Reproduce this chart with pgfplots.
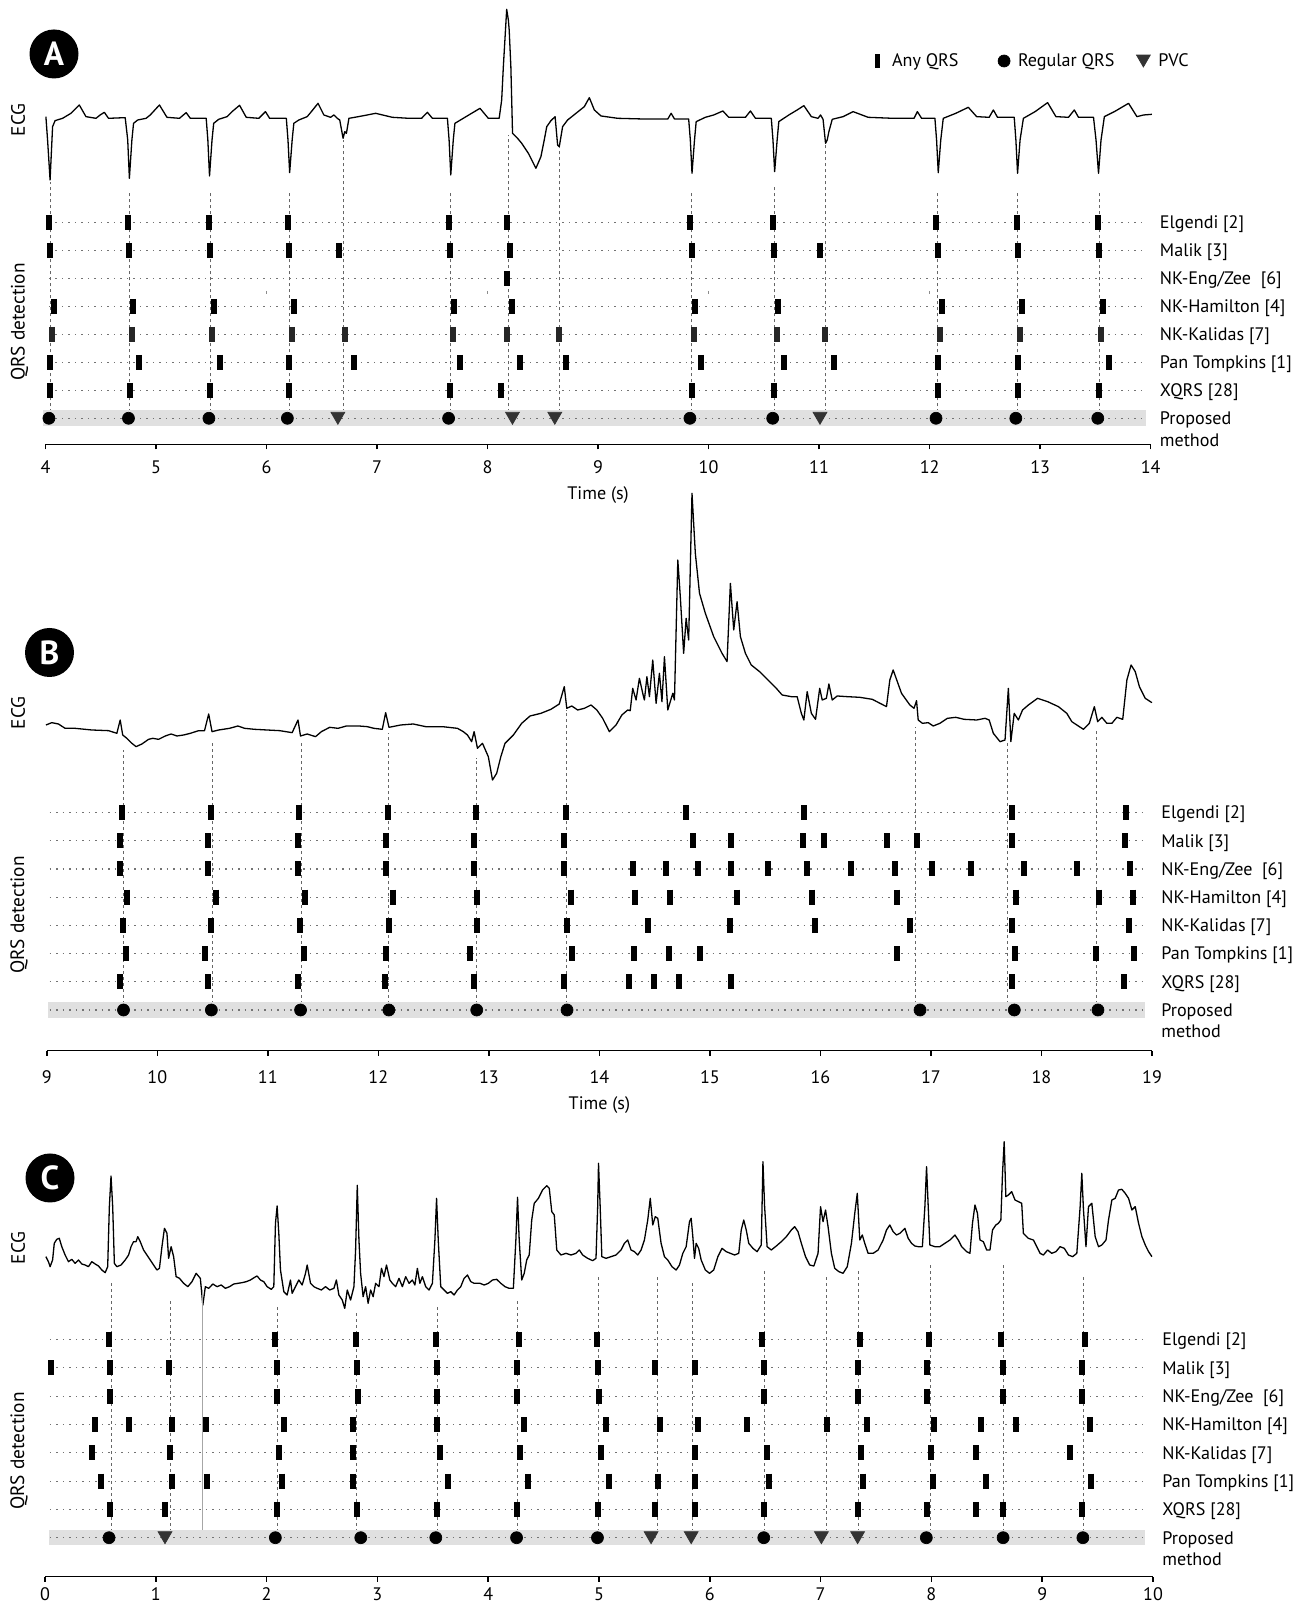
\documentclass[border=0pt]{standalone}
\usepackage{fontspec}
\setmainfont{PT Sans}
\usepackage{pgfplots}
\pgfplotsset{compat=1.18}
\newcommand\lab{\fontsize{10.3pt}{12.3pt}\selectfont}
\newcommand\rlab{\fontsize{11pt}{13pt}\selectfont}
\newcommand\tck{\fontsize{10.3pt}{12pt}\selectfont}
\pgfplotsset{
  det/.style={scale only axis, clip=false,
    axis x line*=bottom, axis y line*=right,
    y axis line style={draw=none}, ytick style={draw=none},
    x axis line style={line width=0.03cm, black},
    xtick style={line width=0.03cm, black},
    tick align=outside, major tick length=0.1cm,
    /pgf/number format/assume math mode=true,
    xticklabel style={font=\tck, inner sep=0pt, anchor=center},
    ytick={1,...,8},
    yticklabels={{\begin{tabular}[t]{@{}l@{}}Proposed\\method\end{tabular}}, XQRS [28], Pan Tompkins [1], NK-Kalidas [7], NK-Hamilton [4], NK-Eng/Zee\ \ [6], Malik [3], Elgendi [2]},
    yticklabel style={font=\lab, anchor=base west, inner sep=0pt, xshift=0.08cm, yshift=-0.127cm},
    xlabel style={font=\lab, at={(axis description cs:0.5,0)}, anchor=center, inner sep=0pt},
  },
  ecg/.style={scale only axis, hide axis, y dir=reverse, clip=false},
  trace/.style={black, line width=0.026cm, line join=round},
  anyqrs/.style={only marks, mark=|, mark size=0.15cm, black, mark options={line width=0.12cm},
    legend image code/.code={\draw[##1] plot coordinates {(0cm,0cm)};}},
  regqrs/.style={only marks, mark=*, mark size=0.12cm, black,
    legend image code/.code={\draw[##1] plot coordinates {(0cm,0cm)};}},
  pvc/.style={only marks, mark=triangle*, mark size=0.16cm, black!80, mark options={yshift=0.04cm, rotate=180},
    legend image code/.code={\draw[##1] plot coordinates {(0cm,0cm)};}},
  rowline/.style={black!55, dash pattern=on 0.03cm off 0.1cm, line width=0.022cm, forget plot},
  vline/.style={black!60, dash pattern=on 0.06cm off 0.06cm, line width=0.02cm, forget plot, unbounded coords=jump},
  band/.style={fill=black!12, draw=none, forget plot},
}
\begin{document}
\begin{tikzpicture}
\useasboundingbox (0,0) rectangle (26.18,32.08);

% ================= PANEL A =================
\begin{axis}[ecg, at={(0.912cm,28.08cm)}, anchor=south west, width=22.1cm, height=4cm,
  xmin=54.63, xmax=1378.4, ymin=0, ymax=600]
\addplot[trace] coordinates {(55,350) (57,420) (60,540) (63,380) (66,362) (75,355) (85,340) (95,315) (103,350) (115,355) (120,345) (125,337) (130,355) (150,353) (153,420) (155,535) (158,420) (160,370) (165,360) (175,355) (180,345) (191,315) (200,352) (215,355) (223,338) (228,355) (247,355) (249,420) (251,528) (254,420) (256,370) (262,358) (272,350) (278,335) (287,316) (295,352) (310,355) (318,335) (323,355) (343,355) (345,420) (347,518) (350,420) (352,370) (358,360) (368,350) (373,335) (381,310) (388,345) (396,352) (400,345) (404,355) (407,360) (411,415) (413,395) (415,400) (418,355) (425,352) (440,345) (450,340) (460,346) (470,352) (490,355) (505,355) (512,337) (518,355) (536,355) (538,420) (540,525) (543,420) (545,370) (555,355) (565,340) (575,325) (580,340) (585,355) (598,355) (601,300) (603,200) (607,28) (609,60) (610,90) (612,200) (614,400) (620,415) (625,430) (633,460) (642,505) (648,470) (652,420) (655,380) (660,362) (665,350) (668,435) (670,440) (674,380) (680,360) (690,340) (700,320) (706,293) (712,330) (720,348) (740,355) (770,357) (800,357) (804,340) (808,357) (825,357) (827,420) (829,520) (832,420) (834,365) (845,352) (855,345) (866,333) (873,352) (893,352) (899,333) (905,355) (924,355) (926,420) (928,515) (931,420) (933,365) (945,345) (955,330) (963,317) (972,350) (980,355) (983,345) (986,358) (989,430) (991,420) (993,395) (997,358) (1010,350) (1022,335) (1040,352) (1070,355) (1095,355) (1099,335) (1104,355) (1120,355) (1122,420) (1124,518) (1127,420) (1130,355) (1145,340) (1160,322) (1170,350) (1185,352) (1190,330) (1195,352) (1215,352) (1217,420) (1219,520) (1222,420) (1226,355) (1240,335) (1255,308) (1265,350) (1280,352) (1287,330) (1292,352) (1310,352) (1313,420) (1316,520) (1319,420) (1323,350) (1335,335) (1352,310) (1362,350) (1370,345) (1380,343)};
\end{axis}

\begin{axis}[det, at={(0.912cm,23.194cm)}, anchor=south west, width=22.1cm, height=4.72cm,
  xmin=4, xmax=14, ymin=0.0714, ymax=8.5, xtick={4,...,14}, xlabel={Time (s)},
  xticklabel style={yshift=-0.364cm},
  xlabel style={yshift=-1.014cm},
  legend style={at={(axis cs:11.529,13.76)}, anchor=west, draw=none, fill=none, font=\lab,
    inner sep=0pt, outer sep=0pt, legend columns=3, legend cell align=left,
    nodes={inner sep=0pt},
    /tikz/column 1/.style={column sep=0.29cm}, /tikz/column 2/.style={column sep=0.79cm},
    /tikz/column 3/.style={column sep=0.16cm}, /tikz/column 4/.style={column sep=0.44cm},
    /tikz/column 5/.style={column sep=0.16cm}}]
\addplot[vline] coordinates {(4.045,1) (4.045,9.45) (nan,nan) (4.762,1) (4.762,9.08) (nan,nan) (5.49,1) (5.49,9.08) (nan,nan) (6.206,1) (6.206,9.08) (nan,nan) (6.70,1) (6.70,10.94) (nan,nan) (7.662,1) (7.662,9.08) (nan,nan) (8.188,1) (8.188,11.12) (nan,nan) (8.653,1) (8.653,10.69) (nan,nan) (9.846,1) (9.846,9.08) (nan,nan) (10.599,1) (10.599,9.26) (nan,nan) (11.055,1) (11.055,10.83) (nan,nan) (12.074,1) (12.074,9.08) (nan,nan) (12.796,1) (12.796,9.08) (nan,nan) (13.533,1) (13.533,9.08)};
\addplot[band] coordinates {(3.98,0.736) (13.955,0.736) (13.955,1.30) (3.98,1.30)} -- cycle;
\pgfplotsinvokeforeach{1,...,8}{\addplot[rowline] coordinates {(4.03,#1) (13.93,#1)};}
\addplot[black!45, only marks, mark=|, mark size=0.03cm, forget plot] coordinates {(6,5.5) (8,5.5) (10,5.5) (12,5.5)};
\addplot[anyqrs, forget plot] coordinates {(4.03,8) (4.75,8) (5.475,8) (6.195,8) (7.651,8) (8.18,8) (9.835,8) (10.584,8) (12.062,8) (12.788,8) (13.522,8)};
\addplot[anyqrs, forget plot] coordinates {(4.038,7) (4.758,7) (5.486,7) (6.206,7) (6.657,7) (7.659,7) (8.203,7) (9.846,7) (10.595,7) (11.008,7) (12.074,7) (12.796,7) (13.533,7)};
\addplot[anyqrs, forget plot] coordinates {(8.173,6)};
\addplot[anyqrs, forget plot] coordinates {(4.075,5) (4.795,5) (5.523,5) (6.244,5) (7.70,5) (8.225,5) (9.881,5) (10.63,5) (12.113,5) (12.835,5) (13.572,5)};
\addplot[anyqrs, black!85, forget plot] coordinates {(4.06,4) (4.78,4) (5.508,4) (6.229,4) (6.709,4) (7.685,4) (8.18,4) (8.645,4) (9.869,4) (10.618,4) (11.05,4) (12.097,4) (12.819,4) (13.549,4)};
\addplot[anyqrs, forget plot] coordinates {(4.038,3) (4.848,3) (5.576,3) (6.206,3) (6.788,3) (7.749,3) (8.293,3) (8.713,3) (9.935,3) (10.684,3) (11.136,3) (12.074,3) (12.8,3) (13.626,3)};
\addplot[anyqrs, forget plot] coordinates {(4.038,2) (4.762,2) (5.486,2) (6.206,2) (7.659,2) (8.12,2) (9.846,2) (10.595,2) (12.074,2) (12.8,2) (13.533,2)};
\addplot[regqrs, forget plot] coordinates {(4.03,1) (4.75,1) (5.478,1) (6.188,1) (7.647,1) (9.831,1) (10.58,1) (12.058,1) (12.78,1) (13.522,1)};
\addplot[pvc, forget plot] coordinates {(6.645,1) (8.225,1) (8.608,1) (11.008,1)};
\addlegendimage{anyqrs, mark size=0.14cm, mark options={line width=0.1cm}}
\addlegendentry{Any QRS}
\addlegendimage{regqrs}
\addlegendentry{Regular QRS}
\addlegendimage{pvc}
\addlegendentry{PVC}
\end{axis}

% ================= PANEL B =================
\begin{axis}[ecg, at={(0.936cm,16.08cm)}, anchor=south west, width=22.104cm, height=6.4cm,
  xmin=56.07, xmax=1380.1, ymin=0, ymax=960]
\addplot[trace] coordinates {(55,735) (62,728) (70,732) (78,745) (90,745) (110,750) (130,752) (140,760) (144,720) (147,765) (152,775) (158,790) (163,800) (170,792) (178,778) (183,775) (190,778) (198,768) (205,762) (212,768) (220,765) (228,760) (238,752) (245,752) (250,702) (254,755) (262,750) (275,745) (285,738) (293,745) (305,748) (320,750) (335,752) (350,758) (357,720) (360,768) (368,762) (378,770) (385,755) (395,742) (405,745) (415,738) (430,738) (440,740) (448,745) (458,748) (462,698) (466,742) (480,735) (495,732) (510,740) (530,740) (548,745) (555,755) (560,765) (565,785) (568,755) (572,805) (578,790) (585,830) (590,900) (595,880) (600,830) (605,790) (615,765) (625,730) (635,708) (648,700) (660,688) (670,672) (676,620) (679,685) (685,678) (692,690) (700,685) (708,675) (715,690) (722,715) (730,755) (738,735) (745,705) (752,690) (755,692) (758,625) (762,660) (766,595) (770,640) (772,660) (775,590) (778,650) (782,540) (786,670) (790,580) (793,665) (796,530) (800,690) (806,640) (808,660) (812,240) (815,350) (819,520) (822,415) (825,480) (829,40) (833,220) (838,340) (845,400) (855,470) (865,520) (871,545) (875,310) (879,450) (883,365) (887,470) (893,520) (900,555) (910,575) (920,600) (930,625) (937,645) (948,650) (955,650) (960,700) (963,720) (967,635) (972,700) (977,718) (982,625) (985,660) (990,655) (993,612) (997,660) (1003,648) (1015,650) (1030,652) (1045,658) (1062,680) (1066,600) (1070,570) (1075,605) (1080,640) (1090,675) (1095,685) (1098,662) (1100,720) (1105,730) (1112,728) (1118,738) (1126,730) (1135,715) (1145,712) (1155,718) (1170,720) (1180,715) (1185,720) (1190,760) (1198,785) (1204,780) (1208,625) (1211,785) (1215,700) (1220,720) (1225,690) (1232,675) (1243,655) (1255,665) (1268,680) (1278,700) (1284,725) (1290,735) (1298,748) (1305,730) (1311,680) (1315,725) (1320,712) (1326,730) (1332,730) (1338,712) (1345,718) (1350,600) (1355,555) (1360,575) (1365,620) (1372,655) (1380,668)};
\end{axis}

\begin{axis}[det, at={(0.936cm,11.066cm)}, anchor=south west, width=22.104cm, height=5.044cm,
  xmin=9, xmax=19, ymin=-0.443, ymax=8.5, xtick={9,...,19}, xlabel={Time (s)},
  xticklabel style={yshift=-0.42cm},
  xlabel style={yshift=-1.086cm}]
\addplot[vline] coordinates {(9.694,1) (9.694,10.22) (nan,nan) (10.495,1) (10.495,10.57) (nan,nan) (11.303,1) (11.303,10.47) (nan,nan) (12.089,1) (12.089,10.82) (nan,nan) (12.89,1) (12.89,9.94) (nan,nan) (13.706,1) (13.706,11.64) (nan,nan) (16.856,1) (16.856,11.04) (nan,nan) (17.694,1) (17.694,10.47) (nan,nan) (18.502,1) (18.502,10.93)};
\addplot[band] coordinates {(9.015,0.706) (18.94,0.706) (18.94,1.273) (9.015,1.273)} -- cycle;
\pgfplotsinvokeforeach{1,...,8}{\addplot[rowline] coordinates {(9.026,#1) (18.924,#1)};}
\addplot[anyqrs, forget plot] coordinates {(9.683,8) (10.482,8) (11.284,8) (12.087,8) (12.886,8) (13.70,8) (14.785,8) (15.855,8) (17.735,8) (18.762,8)};
\addplot[anyqrs, forget plot] coordinates {(9.664,7) (10.463,7) (11.269,7) (12.072,7) (12.867,7) (13.677,7) (14.843,7) (15.187,7) (15.839,7) (16.036,7) (16.604,7) (16.878,7) (17.735,7) (18.754,7)};
\addplot[anyqrs, forget plot] coordinates {(9.664,6) (10.463,6) (11.269,6) (12.072,6) (12.867,6) (13.677,6) (14.307,6) (14.60,6) (14.893,6) (15.187,6) (15.526,6) (15.874,6) (16.275,6) (16.677,6) (17.013,6) (17.36,6) (17.839,6) (18.322,6) (18.8,6)};
\addplot[anyqrs, forget plot] coordinates {(9.728,5) (10.527,5) (11.333,5) (12.128,5) (12.893,5) (13.744,5) (14.326,5) (14.638,5) (15.248,5) (15.92,5) (16.689,5) (17.766,5) (18.522,5) (18.831,5)};
\addplot[anyqrs, forget plot] coordinates {(9.69,4) (10.489,4) (11.292,4) (12.095,4) (12.89,4) (13.704,4) (14.437,4) (15.179,4) (15.955,4) (16.808,4) (17.735,4) (18.796,4)};
\addplot[anyqrs, forget plot] coordinates {(9.72,3) (10.429,3) (11.329,3) (12.072,3) (12.833,3) (13.748,3) (14.315,3) (14.63,3) (14.909,3) (16.696,3) (17.762,3) (18.492,3) (18.839,3)};
\addplot[anyqrs, forget plot] coordinates {(9.664,2) (10.463,2) (11.269,2) (12.064,2) (12.863,2) (13.677,2) (14.27,2) (14.492,2) (14.723,2) (15.187,2) (17.735,2) (18.746,2)};
\addplot[regqrs, forget plot] coordinates {(9.694,1) (10.489,1) (11.296,1) (12.095,1) (12.89,1) (13.707,1) (16.901,1) (17.754,1) (18.511,1)};
\end{axis}

% ================= PANEL C =================
\begin{axis}[ecg, at={(0.9cm,5.68cm)}, anchor=south west, width=22.16cm, height=3.6cm,
  xmin=53.9, xmax=1381.3, ymin=0, ymax=540]
\addplot[trace] coordinates {(55,350) (58,365) (60,380) (63,360) (65,310) (68,298) (71,295) (74,320) (78,345) (82,365) (86,358) (90,370) (94,360) (98,372) (102,375) (106,380) (110,365) (114,372) (118,378) (122,390) (126,398) (129,380) (131,200) (133,108) (135,200) (137,370) (140,380) (145,375) (150,360) (154,345) (157,320) (160,305) (163,305) (165,290) (168,305) (172,330) (176,345) (180,360) (184,375) (188,390) (191,385) (194,320) (197,265) (200,280) (202,355) (205,320) (208,350) (211,410) (215,415) (220,430) (225,440) (230,425) (235,400) (240,415) (243,495) (246,440) (250,445) (255,432) (260,440) (265,435) (270,445) (275,440) (280,432) (285,430) (290,428) (295,425) (300,420) (305,412) (308,408) (312,420) (316,425) (320,440) (325,448) (328,440) (330,250) (332,198) (334,280) (336,390) (340,455) (344,465) (348,420) (350,460) (354,440) (358,420) (362,435) (366,400) (368,375) (372,430) (376,440) (380,445) (385,450) (390,440) (395,450) (400,445) (403,420) (406,465) (410,480) (413,505) (416,450) (420,480) (424,440) (426,330) (428,136) (430,300) (432,400) (435,470) (438,440) (441,490) (444,450) (447,470) (450,430) (454,440) (457,385) (460,410) (463,375) (467,420) (470,430) (474,440) (478,415) (482,440) (486,410) (490,430) (494,420) (497,435) (500,385) (503,430) (506,410) (510,440) (514,450) (518,430) (521,300) (523,175) (525,300) (528,440) (532,450) (536,460) (540,455) (544,465) (548,450) (552,440) (556,415) (560,405) (564,425) (568,430) (575,430) (580,435) (585,430) (590,420) (595,418) (600,430) (605,440) (610,445) (615,445) (618,300) (620,172) (622,300) (625,420) (628,400) (631,360) (634,345) (637,240) (640,190) (645,175) (650,150) (655,137) (658,145) (661,215) (664,225) (667,330) (672,345) (678,340) (684,345) (690,340) (694,330) (698,345) (704,355) (710,362) (714,355) (716,200) (717,70) (719,200) (721,350) (726,355) (732,350) (738,345) (744,330) (748,310) (752,300) (756,330) (760,335) (764,345) (768,330) (772,300) (776,240) (779,175) (782,255) (785,230) (788,235) (792,310) (796,350) (800,360) (805,380) (810,390) (814,375) (818,340) (822,320) (826,245) (828,235) (830,290) (832,355) (834,310) (837,325) (840,360) (845,390) (850,400) (855,390) (860,350) (865,325) (870,335) (875,340) (880,345) (885,340) (888,270) (891,240) (894,270) (897,310) (902,325) (907,335) (912,315) (914,65) (916,200) (919,320) (924,330) (930,318) (936,305) (942,290) (948,270) (952,260) (956,275) (960,310) (965,350) (970,375) (975,378) (980,340) (983,200) (986,245) (989,210) (992,260) (996,340) (1000,385) (1005,395) (1010,400) (1015,380) (1020,310) (1024,220) (1027,160) (1030,300) (1033,285) (1036,310) (1040,340) (1046,340) (1052,330) (1058,300) (1062,270) (1066,255) (1070,275) (1074,285) (1078,280) (1084,265) (1088,295) (1092,310) (1096,318) (1100,320) (1105,320) (1108,200) (1110,80) (1112,200) (1114,315) (1120,320) (1126,320) (1132,310) (1138,300) (1144,285) (1148,300) (1152,320) (1158,335) (1162,340) (1165,250) (1168,195) (1171,220) (1174,300) (1178,305) (1182,330) (1186,330) (1189,270) (1193,255) (1196,250) (1199,240) (1201,100) (1203,5) (1205,170) (1208,165) (1212,155) (1216,180) (1220,185) (1224,190) (1226,280) (1232,295) (1238,300) (1242,320) (1246,340) (1250,345) (1255,330) (1260,340) (1265,335) (1270,320) (1275,325) (1280,345) (1285,350) (1290,340) (1294,200) (1296,100) (1298,210) (1301,320) (1304,200) (1308,190) (1312,290) (1316,320) (1320,315) (1325,300) (1328,240) (1332,180) (1336,175) (1340,150) (1344,148) (1348,160) (1352,175) (1356,210) (1360,200) (1364,250) (1368,290) (1372,315) (1376,335) (1380,350)};
\end{axis}

\begin{axis}[det, at={(0.9cm,0.546cm)}, anchor=south west, width=22.16cm, height=5.025cm,
  xmin=0, xmax=10, ymin=-0.378, ymax=8.5, xtick={0,...,10},
  xticklabel style={yshift=-0.245cm}]
\addplot[vline] coordinates {(0.597,1) (0.597,10.0) (nan,nan) (1.136,1) (1.136,9.40) (nan,nan) (2.097,1) (2.097,9.15) (nan,nan) (2.812,1) (2.812,8.94) (nan,nan) (3.545,1) (3.545,9.15) (nan,nan) (4.267,1) (4.267,9.47) (nan,nan) (4.997,1) (4.997,10.21) (nan,nan) (5.524,1) (5.524,10.21) (nan,nan) (5.844,1) (5.844,10.0) (nan,nan) (6.49,1) (6.49,10.46) (nan,nan) (7.057,1) (7.057,10.21) (nan,nan) (7.341,1) (7.341,10.46) (nan,nan) (7.988,1) (7.988,10.74) (nan,nan) (8.647,1) (8.647,10.74) (nan,nan) (9.375,1) (9.375,10.21)};
\addplot[black!35, line width=0.02cm, forget plot] coordinates {(1.424,1) (1.424,9.74)};
\addplot[band] coordinates {(0.032,0.742) (9.932,0.742) (9.932,1.272) (0.032,1.272)} -- cycle;
\pgfplotsinvokeforeach{1,...,8}{\addplot[rowline] coordinates {(0.043,#1) (9.914,#1)};}
\addplot[anyqrs, forget plot] coordinates {(0.578,8) (2.075,8) (2.804,8) (3.527,8) (4.279,8) (4.982,8) (6.471,8) (7.357,8) (7.981,8) (8.631,8) (9.386,8)};
\addplot[anyqrs, forget plot] coordinates {(0.058,7) (0.589,7) (1.117,7) (2.094,7) (2.816,7) (3.538,7) (4.26,7) (4.993,7) (5.501,7) (5.863,7) (6.487,7) (7.338,7) (7.961,7) (8.647,7) (9.363,7)};
\addplot[anyqrs, forget plot] coordinates {(0.589,6) (2.097,6) (2.823,6) (3.542,6) (4.264,6) (5.001,6) (6.49,6) (7.338,6) (7.961,6) (8.647,6) (9.363,6)};
\addplot[anyqrs, forget plot] coordinates {(0.447,5) (0.758,5) (1.147,5) (1.454,5) (2.161,5) (2.778,5) (3.538,5) (4.327,5) (5.061,5) (5.547,5) (5.894,5) (6.34,5) (7.057,5) (7.419,5) (8.027,5) (8.447,5) (8.766,5) (9.429,5)};
\addplot[anyqrs, forget plot] coordinates {(0.425,4) (1.124,4) (2.112,4) (2.782,4) (3.568,4) (4.29,4) (5.02,4) (5.867,4) (6.514,4) (7.368,4) (7.992,4) (8.4,4) (9.248,4)};
\addplot[anyqrs, forget plot] coordinates {(0.503,3) (1.147,3) (1.465,3) (2.142,3) (2.782,3) (3.635,3) (4.357,3) (5.091,3) (5.532,3) (5.867,3) (6.533,3) (7.38,3) (8.011,3) (8.493,3) (9.444,3)};
\addplot[anyqrs, forget plot] coordinates {(0.589,2) (1.08,2) (2.094,2) (2.816,2) (3.538,2) (4.26,2) (4.993,2) (5.501,2) (5.863,2) (6.487,2) (7.338,2) (7.961,2) (8.4,2) (8.647,2) (9.363,2)};
\addplot[regqrs, forget plot] coordinates {(0.578,1) (2.079,1) (2.85,1) (3.527,1) (4.256,1) (4.986,1) (6.487,1) (7.954,1) (8.647,1) (9.367,1)};
\addplot[pvc, forget plot] coordinates {(1.083,1) (5.47,1) (5.832,1) (7.007,1) (7.334,1)};
\end{axis}

% ================= labels =================
\node[rotate=90, font=\rlab] at (0.36,29.68) {ECG};
\node[rotate=90, font=\rlab] at (0.39,25.64) {QRS detection};
\node[rotate=90, font=\rlab] at (0.36,17.82) {ECG};
\node[rotate=90, font=\rlab] at (0.38,13.78) {QRS detection};
\node[rotate=90, font=\rlab] at (0.36,7.12) {ECG};
\node[rotate=90, font=\rlab] at (0.38,3.06) {QRS detection};
\tikzset{panel/.style={circle, fill=black, minimum size=0.98cm, inner sep=0pt, text=white, font=\fontsize{19pt}{19pt}\selectfont\bfseries}}
\node[panel] at (1.08,31.0) {A};
\node[panel] at (0.99,19.03) {B};
\node[panel] at (1.0,8.52) {C};
\end{tikzpicture}
\end{document}
